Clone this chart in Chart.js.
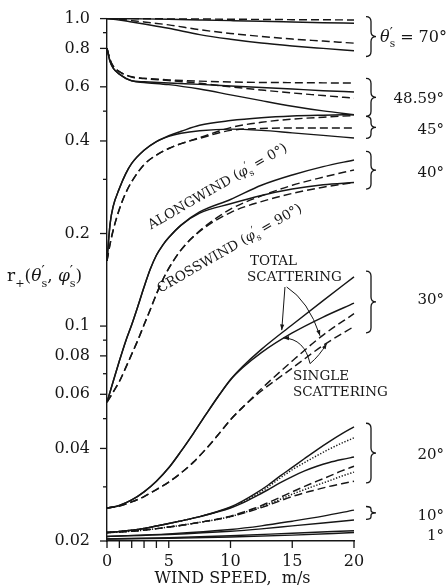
<!DOCTYPE html>
<html>
<head>
<meta charset="utf-8">
<script src="https://cdn.jsdelivr.net/npm/chart.js@4.4.1/dist/chart.umd.min.js"></script>
<style>
  html, body { margin: 0; padding: 0; background: #fff; }
</style>
</head>
<body>
<canvas id="reflect" width="447" height="588"></canvas>
<script>
// wind speed samples (m/s) for each family of curves
const wind70 = [0, 1, 2, 3, 5, 7.5, 10, 12.5, 15, 17.5, 20];
const wind48 = [0, 0.25, 0.5, 1, 2, 3, 5, 7.5, 10, 12.5, 15, 17.5, 20];
const wind45 = [0, 0.25, 0.5, 1, 1.5, 2, 3, 4, 5, 6, 7.5, 10, 12.5, 15, 17.5, 20];
const wind40 = [0, 0.5, 1, 1.5, 2, 2.5, 3, 3.5, 4, 4.5, 5, 6, 7.5, 10, 12.5, 15, 17.5, 20];
const wind30 = [0, 1, 2, 3, 4, 5, 6, 7, 8, 9, 10, 11, 12.5, 15, 17.5, 20];
const wind20 = [0, 2.5, 5, 7.5, 10, 11, 12, 13, 14, 15, 16, 17, 18, 19, 20];
const wind10 = [0, 5, 10, 12.5, 15, 17.5, 20];
const wind1 = [0, 5, 10, 15, 20];

// theta = 70
const r70SolidHi = [1.0, 1.0, 0.999, 0.998, 0.995, 0.990, 0.985, 0.980, 0.975, 0.970, 0.966];
const r70DashHi = [1.0, 1.0, 1.0, 0.999, 0.998, 0.997, 0.995, 0.994, 0.992, 0.991, 0.990];
const r70SolidLo = [1.0, 0.990, 0.975, 0.960, 0.930, 0.887, 0.857, 0.833, 0.815, 0.800, 0.786];
const r70DashLo = [1.0, 0.995, 0.985, 0.975, 0.954, 0.920, 0.895, 0.875, 0.858, 0.845, 0.832];

// theta = 48.59
const r48DashHi = [0.80, 0.735, 0.700, 0.672, 0.647, 0.640, 0.632, 0.626, 0.622, 0.620, 0.619, 0.618, 0.617];
const r48SolidHi = [0.80, 0.725, 0.690, 0.660, 0.628, 0.623, 0.617, 0.611, 0.604, 0.597, 0.590, 0.583, 0.577];
const r48DashLo = [0.80, 0.735, 0.700, 0.672, 0.645, 0.638, 0.629, 0.616, 0.600, 0.586, 0.573, 0.562, 0.551];
const r48SolidLo = [0.80, 0.725, 0.690, 0.660, 0.627, 0.620, 0.610, 0.590, 0.565, 0.541, 0.519, 0.501, 0.487];

// theta = 45
const r45SolidHi = [0.163, 0.215, 0.245, 0.280, 0.312, 0.338, 0.373, 0.398, 0.416, 0.430, 0.450, 0.466, 0.476, 0.482, 0.485, 0.487];
const r45SolidLo = [0.163, 0.215, 0.245, 0.280, 0.312, 0.338, 0.373, 0.398, 0.414, 0.424, 0.432, 0.437, 0.433, 0.425, 0.417, 0.409];
const r45DashHi = [0.163, 0.185, 0.205, 0.240, 0.270, 0.295, 0.335, 0.360, 0.378, 0.392, 0.410, 0.442, 0.460, 0.471, 0.478, 0.484];
const r45DashLo = [0.163, 0.185, 0.205, 0.240, 0.270, 0.295, 0.335, 0.360, 0.378, 0.392, 0.408, 0.433, 0.439, 0.441, 0.441, 0.441];

// theta = 40 (alongwind solid, crosswind dashed)
const r40SolidHi = [0.0566, 0.066, 0.077, 0.089, 0.101, 0.116, 0.134, 0.153, 0.170, 0.183, 0.194, 0.213, 0.235, 0.258, 0.287, 0.310, 0.330, 0.347];
const r40SolidLo = [0.0566, 0.066, 0.077, 0.089, 0.101, 0.116, 0.134, 0.153, 0.170, 0.183, 0.194, 0.213, 0.233, 0.250, 0.266, 0.279, 0.288, 0.293];
const r40DashHi = [0.0566, 0.061, 0.066, 0.073, 0.081, 0.090, 0.101, 0.113, 0.127, 0.141, 0.154, 0.177, 0.204, 0.240, 0.265, 0.287, 0.305, 0.322];
const r40DashLo = [0.0566, 0.061, 0.066, 0.073, 0.081, 0.090, 0.101, 0.113, 0.127, 0.141, 0.154, 0.177, 0.203, 0.234, 0.254, 0.270, 0.283, 0.293];

// theta = 30 (total / single scattering)
const r30SolidHi = [0.0256, 0.0261, 0.0272, 0.0289, 0.0313, 0.0346, 0.0392, 0.0448, 0.0515, 0.0590, 0.0670, 0.0740, 0.0840, 0.1010, 0.1210, 0.1446];
const r30SolidLo = [0.0256, 0.0261, 0.0272, 0.0289, 0.0313, 0.0346, 0.0392, 0.0448, 0.0515, 0.0590, 0.0668, 0.0733, 0.0820, 0.0950, 0.1070, 0.1187];
const r30DashHi = [0.0256, 0.0260, 0.0268, 0.0279, 0.0294, 0.0311, 0.0333, 0.0361, 0.0398, 0.0443, 0.0496, 0.0545, 0.0625, 0.0770, 0.0935, 0.1097];
const r30DashLo = [0.0256, 0.0260, 0.0268, 0.0279, 0.0294, 0.0311, 0.0333, 0.0361, 0.0398, 0.0443, 0.0496, 0.0545, 0.0615, 0.0730, 0.0865, 0.0997];

// theta = 20
const r20SolidHi = [0.0213, 0.0218, 0.0228, 0.0240, 0.0258, 0.0270, 0.0285, 0.0303, 0.0325, 0.0347, 0.0371, 0.0396, 0.0421, 0.0446, 0.0470];
const r20DotHi = [0.0213, 0.0218, 0.0228, 0.0240, 0.0257, 0.0268, 0.0282, 0.0299, 0.0320, 0.0341, 0.0360, 0.0379, 0.0398, 0.0416, 0.0433];
const r20SolidLo = [0.0213, 0.0218, 0.0228, 0.0240, 0.0256, 0.0266, 0.0279, 0.0293, 0.0309, 0.0324, 0.0338, 0.0350, 0.0360, 0.0368, 0.0375];
const r20DashHi = [0.0213, 0.0216, 0.0222, 0.0230, 0.0241, 0.0248, 0.0256, 0.0266, 0.0277, 0.0289, 0.0301, 0.0313, 0.0325, 0.0338, 0.0350];
const r20DotLo = [0.0213, 0.0216, 0.0222, 0.0230, 0.0240, 0.0247, 0.0254, 0.0263, 0.0273, 0.0284, 0.0294, 0.0304, 0.0314, 0.0325, 0.0335];
const r20DashLo = [0.0213, 0.0216, 0.0222, 0.0230, 0.0240, 0.0246, 0.0253, 0.0261, 0.0270, 0.0279, 0.0287, 0.0294, 0.0301, 0.0307, 0.0313];

// theta = 10 and 1
const r10Hi = [0.0207, 0.0211, 0.0218, 0.0224, 0.0232, 0.0241, 0.0252];
const r10Lo = [0.0207, 0.0210, 0.0215, 0.0219, 0.0224, 0.0229, 0.0234];
const r1Hi = [0.0203, 0.0205, 0.0208, 0.0212, 0.0216];
const r1Lo = [0.0203, 0.0204, 0.0206, 0.0209, 0.0213];

// axis ticks
const yTickVals = [1, 0.9, 0.8, 0.6, 0.5, 0.4, 0.3, 0.2, 0.1, 0.09, 0.08, 0.07, 0.06, 0.05, 0.04, 0.03, 0.02];
const yLabelVals = [1, 0.8, 0.6, 0.4, 0.2, 0.1, 0.08, 0.06, 0.04, 0.02];
const xTickVals = [0, 1, 2, 3, 4, 5, 10, 15, 20];
const xLabelVals = [0, 5, 10, 15, 20];

const INK = '#161616';
const FONT = '"DejaVu Serif", "Liberation Serif", serif';
const DASH = [8, 4];
const DOT = [1.3, 1.7];

function curve(xs, ys, dash) {
  return {
    data: xs.map((x, i) => ({ x: x, y: ys[i] })),
    borderColor: INK,
    borderWidth: 1.45,
    borderDash: dash || [],
    pointRadius: 0,
    fill: false,
    cubicInterpolationMode: 'monotone',
    clip: false
  };
}

// brace groups on the right, in reflectance units
const groups = [
  { label: 'θ_s^′ = 70°', top: 1.015, bottom: 0.753, at: 0.874, left: true },
  { label: '48.59°', top: 0.639, bottom: 0.481, at: 0.554 },
  { label: '45°', top: 0.481, bottom: 0.408, at: 0.440 },
  { label: '40°', top: 0.370, bottom: 0.279, at: 0.319 },
  { label: '30°', top: 0.151, bottom: 0.0951, at: 0.123 },
  { label: '20°', top: 0.0483, bottom: 0.0309, at: 0.0386 },
  { label: '10°', top: 0.0259, bottom: 0.0235, at: 0.0243 },
  { label: '1°', at: 0.0210 }
];

// leader arrows for the scattering notes: [wind, r]
const leaders = [
  { from: [14.41, 0.134], to: [14.15, 0.097] },
  { from: [14.55, 0.134], via: [16.3, 0.121], to: [17.25, 0.093] },
  { from: [16.44, 0.0755], via: [16.0, 0.091], to: [14.28, 0.0915] },
  { from: [16.44, 0.0755], via: [17.2, 0.080], to: [17.79, 0.0878] }
];

// draws text with _x subscripts and ^x superscripts (a superscript right after a subscript is stacked)
function drawRich(ctx, str, x, y, size, align) {
  const placed = [];
  let pen = 0, subAt = null;
  for (let i = 0; i < str.length; i++) {
    let ch = str[i], kind = 'n';
    if (ch === '_') { kind = 'sub'; ch = str[++i]; }
    else if (ch === '^') { kind = 'sup'; ch = str[++i]; }
    const italic = /[θφ]/.test(ch);
    const fs = kind === 'sub' ? size * 0.66 : kind === 'sup' ? size * 0.85 : size;
    const font = (italic ? 'italic ' : '') + fs + 'px ' + FONT;
    ctx.font = font;
    const w = ctx.measureText(ch).width;
    let at = pen;
    if (kind === 'sup' && subAt !== null) {
      at = subAt;
      pen = Math.max(pen, at + w);
    } else {
      pen += w;
    }
    subAt = kind === 'sub' ? at : null;
    const dy = kind === 'sub' ? size * 0.3 : kind === 'sup' ? -size * 0.3 : 0;
    placed.push({ ch, font, at, dy });
  }
  const x0 = x - pen * (align === 'center' ? 0.5 : align === 'right' ? 1 : 0);
  ctx.textAlign = 'left';
  ctx.textBaseline = 'alphabetic';
  placed.forEach(q => {
    ctx.font = q.font;
    ctx.fillText(q.ch, x0 + q.at, y + q.dy);
  });
}

function brace(ctx, x, y1, y2, w) {
  const m = (y1 + y2) / 2, h = w / 2;
  const r = Math.min(h, (y2 - y1) / 5);
  ctx.beginPath();
  ctx.moveTo(x, y1);
  ctx.quadraticCurveTo(x + h, y1, x + h, y1 + r);
  ctx.lineTo(x + h, m - r);
  ctx.quadraticCurveTo(x + h, m, x + w, m);
  ctx.quadraticCurveTo(x + h, m, x + h, m + r);
  ctx.lineTo(x + h, y2 - r);
  ctx.quadraticCurveTo(x + h, y2, x, y2);
  ctx.stroke();
}

function arrowHead(ctx, x, y, ang) {
  const len = 6, spread = 0.35;
  ctx.beginPath();
  ctx.moveTo(x, y);
  ctx.lineTo(x - len * Math.cos(ang - spread), y - len * Math.sin(ang - spread));
  ctx.lineTo(x - len * Math.cos(ang + spread), y - len * Math.sin(ang + spread));
  ctx.closePath();
  ctx.fill();
}

const figureMarks = {
  id: 'figureMarks',
  afterDraw(chart) {
    const { ctx, chartArea: a, scales } = chart;
    const px = v => scales.x.getPixelForValue(v);
    const py = v => scales.y.getPixelForValue(v);
    ctx.save();
    ctx.strokeStyle = INK;
    ctx.fillStyle = INK;
    ctx.lineWidth = 1.3;

    // tick marks, outside the frame
    yTickVals.forEach(v => {
      const len = yLabelVals.includes(v) ? 7 : 4;
      const yy = py(v);
      ctx.beginPath(); ctx.moveTo(a.left - len, yy); ctx.lineTo(a.left, yy); ctx.stroke();
    });
    xTickVals.forEach(v => {
      const xx = px(v);
      ctx.beginPath(); ctx.moveTo(xx, a.bottom); ctx.lineTo(xx, a.bottom + 7); ctx.stroke();
    });

    // braces and angle labels
    groups.forEach(g => {
      if (g.top) brace(ctx, a.right + 12, py(g.top), py(g.bottom), 10);
      const base = py(g.at) + 5.5;
      if (g.left) drawRich(ctx, g.label, a.right + 26, base, 16, 'left');
      else drawRich(ctx, g.label, a.right + 90, base, 15, 'right');
    });

    // axis titles
    drawRich(ctx, 'r_+(θ_s^′, φ_s^′)', 7, py(0.145) + 5, 17, 'left');
    ctx.font = '16px ' + FONT;
    ctx.textAlign = 'center';
    ctx.textBaseline = 'alphabetic';
    ctx.fillText('WIND SPEED,  m/s', (a.left + a.right) / 2 + 2, a.bottom + 42);

    // curve names along the 40 degree pair
    [['ALONGWIND (φ_s^′ = 0°)', 9.11, 0.277], ['CROSSWIND (φ_s^′ = 90°)', 10.08, 0.1743]].forEach(t => {
      ctx.save();
      ctx.translate(px(t[1]), py(t[2]));
      ctx.rotate(-30 * Math.PI / 180);
      drawRich(ctx, t[0], 0, 0, 13.5, 'center');
      ctx.restore();
    });

    // scattering notes
    ctx.font = '13.5px ' + FONT;
    ctx.textAlign = 'left';
    ctx.textBaseline = 'middle';
    ctx.fillText('TOTAL', px(11.58), py(0.1618));
    ctx.fillText('SCATTERING', px(11.34), py(0.1435));
    ctx.fillText('SINGLE', px(15.06), py(0.0685));
    ctx.fillText('SCATTERING', px(15.06), py(0.0608));

    ctx.lineWidth = 1;
    leaders.forEach(l => {
      const f = [px(l.from[0]), py(l.from[1])];
      const t = [px(l.to[0]), py(l.to[1])];
      ctx.beginPath();
      ctx.moveTo(f[0], f[1]);
      let c = f;
      if (l.via) {
        c = [px(l.via[0]), py(l.via[1])];
        ctx.quadraticCurveTo(c[0], c[1], t[0], t[1]);
      } else {
        ctx.lineTo(t[0], t[1]);
      }
      ctx.stroke();
      arrowHead(ctx, t[0], t[1], Math.atan2(t[1] - c[1], t[0] - c[0]));
    });
    ctx.restore();
  }
};

new Chart(document.getElementById('reflect'), {
  type: 'line',
  data: {
    datasets: [
      curve(wind70, r70SolidHi), curve(wind70, r70DashHi, DASH),
      curve(wind70, r70SolidLo), curve(wind70, r70DashLo, DASH),
      curve(wind48, r48DashHi, DASH), curve(wind48, r48SolidHi),
      curve(wind48, r48DashLo, DASH), curve(wind48, r48SolidLo),
      curve(wind45, r45SolidHi), curve(wind45, r45SolidLo),
      curve(wind45, r45DashHi, DASH), curve(wind45, r45DashLo, DASH),
      curve(wind40, r40SolidHi), curve(wind40, r40SolidLo),
      curve(wind40, r40DashHi, DASH), curve(wind40, r40DashLo, DASH),
      curve(wind30, r30SolidHi), curve(wind30, r30SolidLo),
      curve(wind30, r30DashHi, DASH), curve(wind30, r30DashLo, DASH),
      curve(wind20, r20SolidHi), curve(wind20, r20DotHi, DOT), curve(wind20, r20SolidLo),
      curve(wind20, r20DashHi, DASH), curve(wind20, r20DotLo, DOT), curve(wind20, r20DashLo, DASH),
      curve(wind10, r10Hi), curve(wind10, r10Lo),
      curve(wind1, r1Hi), curve(wind1, r1Lo)
    ]
  },
  options: {
    responsive: false,
    animation: false,
    layout: { padding: { top: 17, right: 93, bottom: 0, left: 0 } },
    plugins: { legend: { display: false }, tooltip: { enabled: false } },
    scales: {
      x: {
        type: 'linear', min: 0, max: 20, bounds: 'data',
        afterFit: s => { s.height = 47; },
        afterBuildTicks: s => { s.ticks = xLabelVals.map(v => ({ value: v })); },
        grid: { display: false },
        border: { display: true, color: INK, width: 1.4 },
        ticks: { padding: 3, maxRotation: 0, autoSkip: false, color: INK, font: { family: FONT, size: 16 } }
      },
      y: {
        type: 'logarithmic', min: 0.02, max: 1, bounds: 'data',
        afterFit: s => { s.width = 107; },
        afterBuildTicks: s => { s.ticks = yLabelVals.map(v => ({ value: v })); },
        grid: { display: false },
        border: { display: true, color: INK, width: 1.4 },
        ticks: {
          padding: 9, autoSkip: false, color: INK, font: { family: FONT, size: 16 },
          callback: v => v === 1 ? '1.0' : String(v)
        }
      }
    }
  },
  plugins: [figureMarks]
});
</script>
</body>
</html>
